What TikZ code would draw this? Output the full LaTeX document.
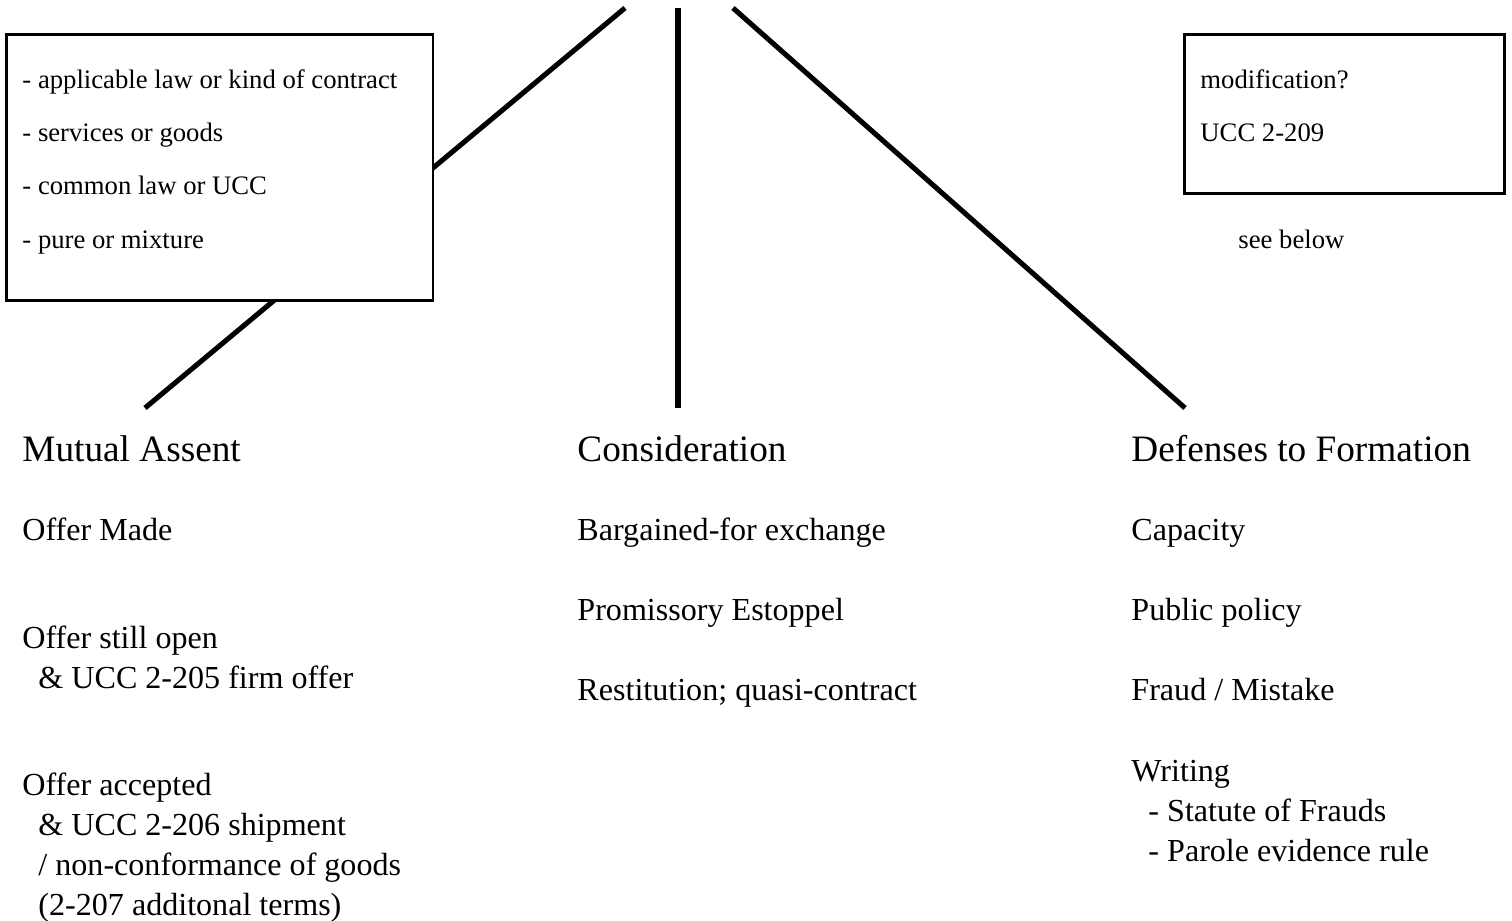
\documentclass[tikz,border=0pt]{standalone}
\usepackage{fontspec}
\setmainfont{Liberation Serif}
\tikzset{
  branch/.style={line width=2.2pt},
  frame/.style={draw, line width=1.2pt, fill=white},
  boxtext/.style={anchor=base west, inner sep=0pt, font=\fontsize{11.6}{14}\selectfont},
  head/.style={anchor=base west, inner sep=0pt, font=\fontsize{16.2}{19}\selectfont},
  item/.style={anchor=base west, inner sep=0pt, font=\fontsize{13.95}{17}\selectfont},
}

\begin{document}
\begin{tikzpicture}[x=0.4348pt, y=-0.4348pt]
		\useasboundingbox (0,0) rectangle (1512,921);
		
		%branch ends
		\coordinate (assent top) at (625,8);
		\coordinate (assent end) at (145,408);
		\coordinate (consid top) at (678,8);
		\coordinate (consid end) at (678,408);
		\coordinate (defense top) at (733,8);
		\coordinate (defense end) at (1185,408);
		
		%branches
		\draw[branch] (assent top) -- (assent end);
		\draw[branch] (consid top) -- (consid end);
		\draw[branch] (defense top) -- (defense end);
		
		%boxes
		\draw[frame] (6.5,34.5) rectangle (433,300.5);
		\node[boxtext] (law1) at (22,89) {- applicable law or kind of contract};
		\node[boxtext] (law2) at (22,142) {- services or goods};
		\node[boxtext] (law3) at (22,195) {- common law or UCC};
		\node[boxtext] (law4) at (22,249) {- pure or mixture};
		
		\draw[frame] (1184.5,34.5) rectangle (1504.5,193.5);
		\node[boxtext] (mod1) at (1200,89) {modification?};
		\node[boxtext] (mod2) at (1200,142) {UCC 2-209};
		\node[boxtext] (below) at (1238,249) {see below};
		
		%headings
		\node[head] (assent) at (22,462) {Mutual Assent};
		\node[head] (consid) at (577,462) {Consideration};
		\node[head] (defense) at (1131,462) {Defenses to Formation};
		
		%mutual assent
		\node[item] (made) at (22,541) {Offer Made};
		\node[item] (open) at (22,649) {Offer still open};
		\node[item] (firm) at (38,689) {\& UCC 2-205 firm offer};
		\node[item] (accepted) at (22,795) {Offer accepted};
		\node[item] (shipment) at (38,835) {\& UCC 2-206 shipment};
		\node[item] (nonconf) at (38,875) {/ non-conformance of goods};
		\node[item] (terms) at (38,915) {(2-207 additonal terms)};
		
		%consideration
		\node[item] (bargain) at (577,541) {Bargained-for exchange};
		\node[item] (estoppel) at (577,621) {Promissory Estoppel};
		\node[item] (restitution) at (577,701) {Restitution; quasi-contract};
		
		%defenses
		\node[item] (capacity) at (1131,541) {Capacity};
		\node[item] (policy) at (1131,621) {Public policy};
		\node[item] (fraud) at (1131,701) {Fraud / Mistake};
		\node[item] (writing) at (1131,781) {Writing};
		\node[item] (statute) at (1148,821) {- Statute of Frauds};
		\node[item] (parole) at (1148,861) {- Parole evidence rule};
\end{tikzpicture}
\end{document}
